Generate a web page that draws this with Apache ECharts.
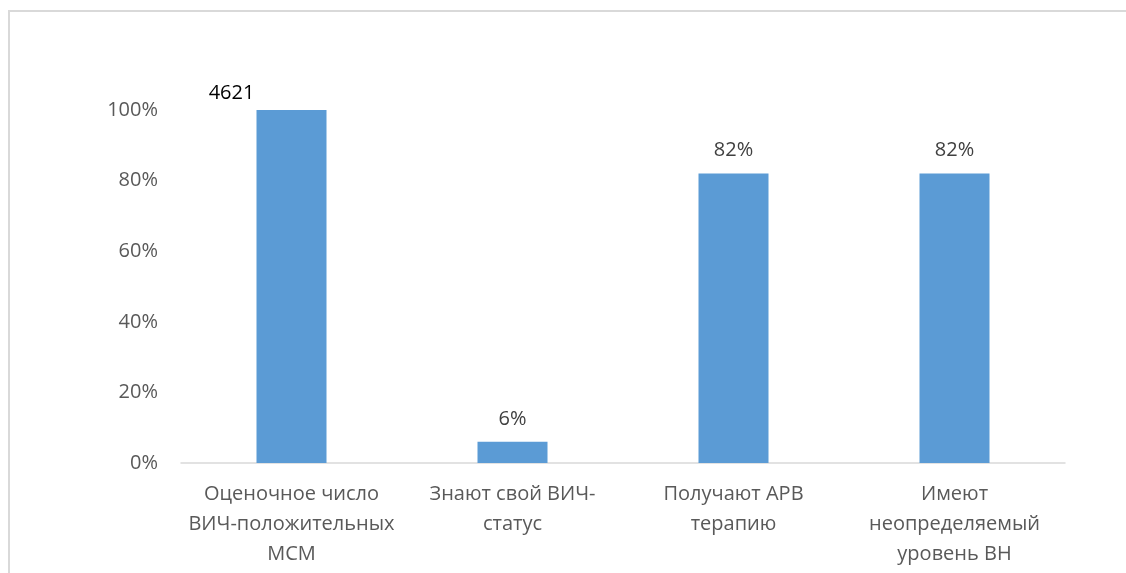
<!DOCTYPE html>
<html>
<head>
<meta charset="utf-8">
<script src="https://cdn.jsdelivr.net/npm/echarts@6/dist/echarts.min.js"></script>
<style>
  html, body { margin: 0; padding: 0; background: #ffffff; overflow: hidden; }
  #frame {
    position: absolute; left: 8px; top: 10px; width: 1200px; height: 700px;
    border-left: 2px solid #d9d9d9; border-top: 2px solid #d9d9d9;
    box-sizing: border-box;
  }
  #chart { position: absolute; left: 0; top: 0; width: 1126px; height: 573px; }
</style>
</head>
<body>
<div id="frame"></div>
<div id="chart"></div>
<script>
// HIV care cascade among MSM
const categories = [
  'Оценочное число\nВИЧ-положительных\nМСМ',
  'Знают свой ВИЧ-\nстатус',
  'Получают АРВ\nтерапию',
  'Имеют\nнеопределяемый\nуровень ВН'
];
const shares = [100, 6, 82, 82];
const valueLabels = ['4621', '6%', '82%', '82%'];
const yTicks = [0, 20, 40, 60, 80, 100];

const FONT = '"Open Sans", "Noto Sans", sans-serif';

const chart = echarts.init(document.getElementById('chart'), null, { renderer: 'canvas' });

const labelStyles = [
  { offset: [-60, 0], distance: 7, color: '#000000' },
  { offset: [0, 0], distance: 13, color: '#404040' },
  { offset: [0, 0], distance: 13, color: '#404040' },
  { offset: [0, 0], distance: 13, color: '#404040' }
];

chart.setOption({
  animation: false,
  grid: { left: 181, right: 61, top: 110, bottom: 110 },
  xAxis: {
    type: 'category',
    data: categories,
    axisLine: { lineStyle: { color: '#d9d9d9', width: 1.5 } },
    axisTick: { show: false },
    axisLabel: {
      color: '#595959', fontFamily: FONT, fontSize: 20,
      lineHeight: 30, margin: 16, interval: 0
    }
  },
  yAxis: {
    type: 'value',
    min: yTicks[0],
    max: yTicks[yTicks.length - 1],
    interval: yTicks[1] - yTicks[0],
    axisLine: { show: false },
    axisTick: { show: false },
    splitLine: { show: false },
    axisLabel: {
      color: '#595959', fontFamily: FONT, fontSize: 20, margin: 23,
      formatter: v => v + '%'
    }
  },
  series: [{
    type: 'bar',
    barWidth: 70,
    itemStyle: { color: '#5b9bd5' },
    data: shares.map((v, i) => ({
      value: v,
      label: {
        show: true,
        position: 'top',
        offset: labelStyles[i].offset,
        distance: labelStyles[i].distance,
        color: labelStyles[i].color,
        fontFamily: FONT,
        fontSize: 20,
        formatter: () => valueLabels[i]
      }
    }))
  }]
});
</script>
</body>
</html>
